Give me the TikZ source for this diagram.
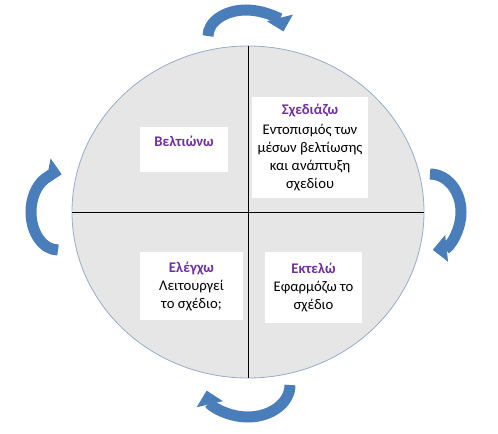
\documentclass[tikz,border=0pt]{standalone}
\usepackage{fontspec}
\setmainfont{Carlito}
\usetikzlibrary{shapes.geometric,arrows.meta}
\definecolor{pdsa}{RGB}{112,48,160}
\definecolor{cycblue}{RGB}{74,126,187}
\definecolor{disc}{RGB}{230,230,230}
\definecolor{rim}{RGB}{150,172,202}
\newcommand\steptitle[1]{{\color{pdsa}\bfseries #1}}

\begin{document}
\begin{tikzpicture}[x=1bp,y=-1bp,
  box/.style={fill=white,inner sep=0pt,align=center,font=\fontsize{14.7bp}{18bp}\selectfont},
  cyc/.style={cycblue,line width=11bp,-{Triangle[width=26bp,length=14bp]}}]
\useasboundingbox (0,0) rectangle (498,434);
\node[ellipse,fill=disc,draw=rim,line width=0.8bp,minimum width=352bp,minimum height=332bp,inner sep=0pt] (disc) at (248,212) {};
\draw[line width=0.9bp] (disc.north) -- (disc.south);
\draw[line width=0.9bp] (disc.west) -- (disc.east);
\node[box,minimum width=116bp,minimum height=101bp] (plan) at (310,147.5) {\steptitle{Σχεδιάζω}\\[2bp] Εντοπισμός των\\ μέσων βελτίωσης\\ και ανάπτυξη\\ σχεδίου};
\node[box,minimum width=97bp,minimum height=71bp] (act) at (313.5,287.5) {\steptitle{Εκτελώ}\\ Εφαρμόζω το\\ σχέδιο};
\node[box,minimum width=103bp,minimum height=68bp] (check) at (191.5,286) {\steptitle{Ελέγχω}\\ Λειτουργεί\\ το σχέδιο;};
\node[box,minimum width=88bp,minimum height=45bp,text height=11bp,text depth=17bp] (improve) at (184,149.5) {\steptitle{Βελτιώνω}};
\coordinate (a0) at (208,36);
\coordinate (a1) at (430,174);
\coordinate (a2) at (290,385);
\coordinate (a3) at (58,250);
\draw[cyc] (a0) arc[start angle=180,end angle=350,x radius=38,y radius=26];
\draw[cyc] (a1) arc[start angle=270,end angle=445,x radius=31,y radius=38];
\draw[cyc] (a2) arc[start angle=0,end angle=170,x radius=42,y radius=32];
\draw[cyc] (a3) arc[start angle=90,end angle=278,x radius=27,y radius=38];
\end{tikzpicture}
\end{document}
